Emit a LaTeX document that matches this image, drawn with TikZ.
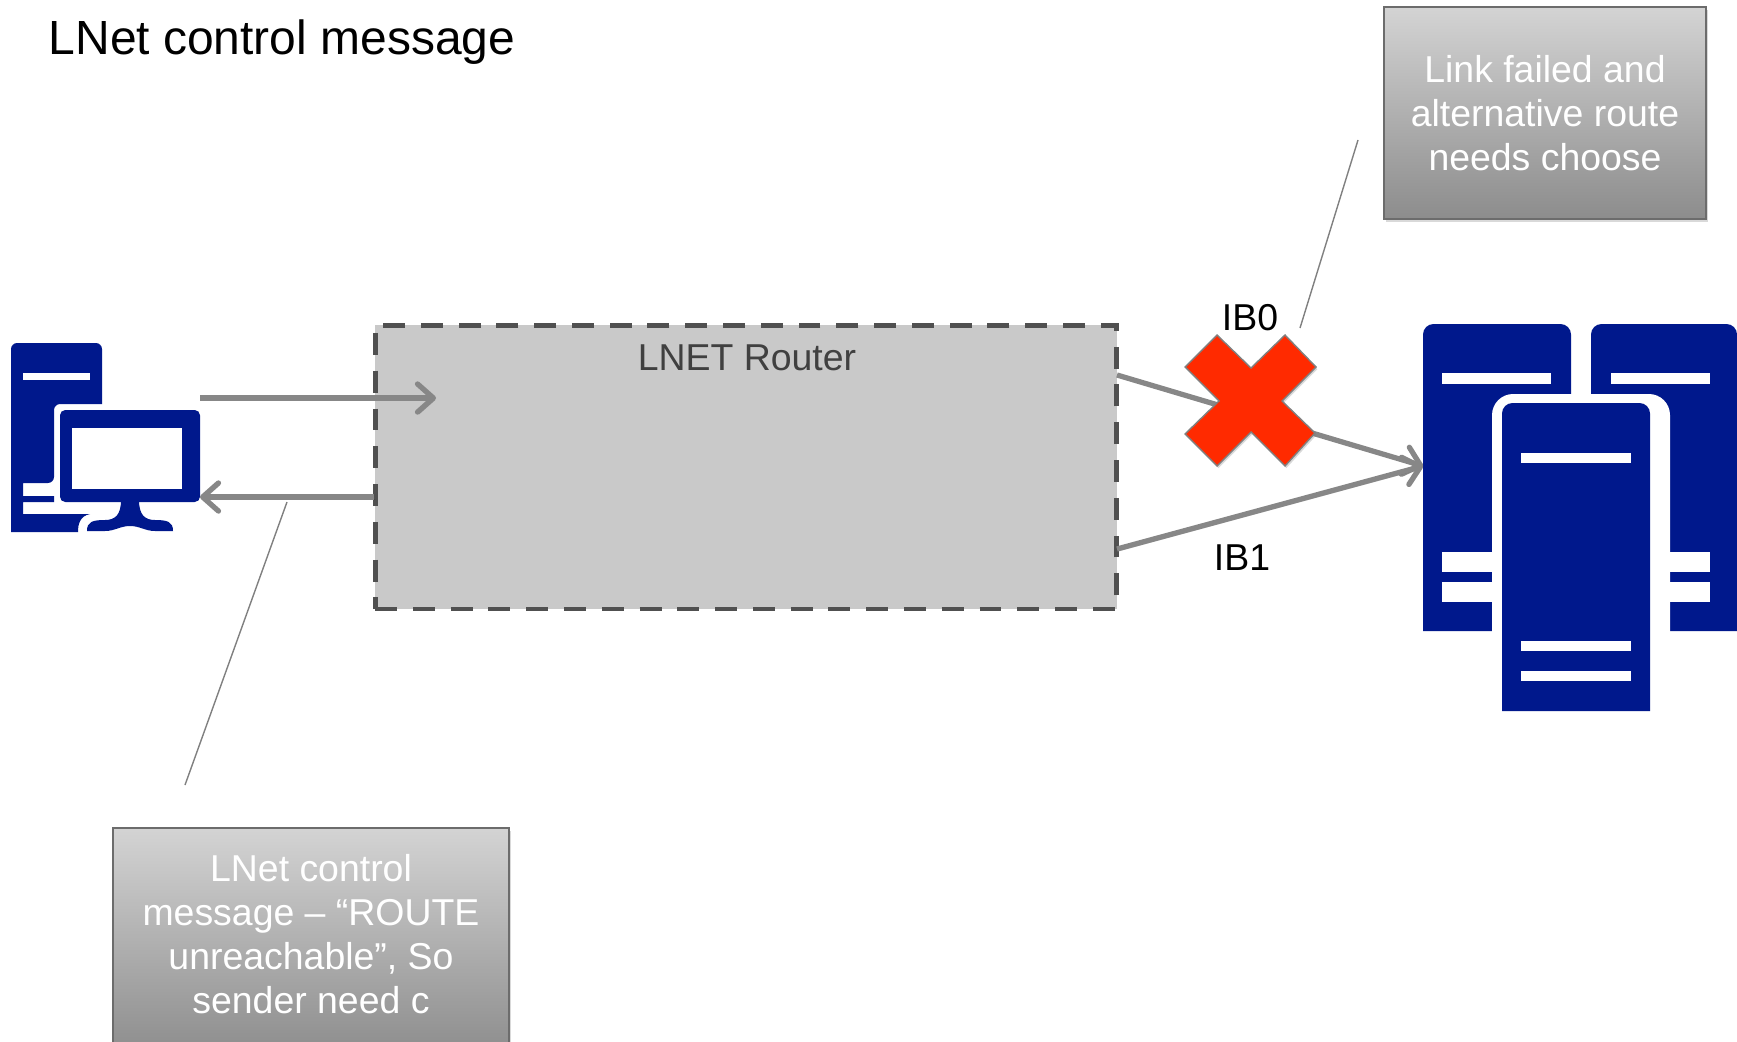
\documentclass[tikz,border=0pt]{standalone}
\usepackage{fontspec}
\setmainfont{Liberation Sans}
\usetikzlibrary{arrows.meta, positioning, shadows}
\definecolor{hostblue}{RGB}{0,24,140}
\definecolor{linkgray}{RGB}{135,135,135}
\definecolor{routerfill}{RGB}{201,201,201}
\definecolor{routerdash}{RGB}{80,80,80}
\definecolor{crossred}{RGB}{255,42,0}
\tikzset{
	routerbox/.style={draw=routerdash, fill=routerfill, line width=2.8pt, dash pattern=on 12.5pt off 9pt, minimum width=742\pxunit, minimum height=284\pxunit, inner sep=0pt},
	notebox/.style={draw=gray!85!black, line width=0.9pt, top color=black!17, bottom color=black!45, inner sep=0pt, drop shadow={opacity=.3, shadow xshift=1.2pt, shadow yshift=-1.6pt}},
	notetext/.style={text=white, align=center, font=\fontsize{21.3}{25}\selectfont, inner sep=0pt},
	link/.style={draw=linkgray, line width=3pt, -{Straight Barb[length=9pt, width=16pt, line cap=round, round]}, preaction={draw=black, opacity=.15, transform canvas={shift={(.8pt,-1.2pt)}}}},
	leader/.style={draw=gray, line width=0.8pt},
	iblabel/.style={font=\fontsize{21.3}{25}\selectfont, inner sep=0pt},
	hostpart/.style={fill=hostblue},
	hostgap/.style={fill=white}
}
\newcommand{\pxunit}{*0.5690pt}
\begin{document}
\begin{tikzpicture}[x=0.02cm, y=-0.02cm]
		\useasboundingbox (0,0) rectangle (1737,1041);
		\clip (0,0) rectangle (1737,1041);
		
		% Title
		\node[font=\fontsize{27.3}{32}\selectfont, inner sep=0pt] (title) at (282,42) {LNet control message};
		
		% Client computer
		\path[hostpart, rounded corners=3.5pt] (11,532) -- (11,343) -- (102,343) [sharp corners] -- (102,404) [rounded corners=3.5pt] -- (54,404) -- (54,483) [sharp corners] -- (23,483) -- (23,496) -- (54,496) -- (54,502) -- (23,502) -- (23,514) -- (90,514) .. controls (80,516) and (78,524) .. (78,532) -- cycle;
		\path[hostgap] (23,373) rectangle (90,380);
		\path[hostpart, rounded corners=3pt] (60,410) rectangle (200,502);
		\path[hostgap] (72,428) rectangle (182,489);
		\path[hostpart] (121,500) -- (139,500) .. controls (139,515) and (145,520) .. (155,520) .. controls (168,520) and (173,522) .. (173,531) -- (155,531) .. controls (145,531) and (140,526) .. (130,526) .. controls (120,526) and (115,531) .. (105,531) -- (87,531) .. controls (87,522) and (92,520) .. (105,520) .. controls (115,520) and (121,515) .. (121,500) -- cycle;
		
		% LNET router
		\node[routerbox] (router) at (746,467) {};
		\node[text=black!75, font=\fontsize{21.3}{25}\selectfont, inner sep=0pt] (routerlabel) at (747,358) {LNET Router};
		
		% Server group
		\path[hostpart, rounded corners=6pt] (1423,631) [sharp corners] -- (1423,631) [rounded corners=6pt] -- (1423,324) -- (1571,324) [sharp corners] -- (1571,631) -- cycle;
		\path[hostpart, rounded corners=6pt] (1591,631) -- (1591,324) -- (1737,324) [sharp corners] -- (1737,631) -- cycle;
		\path[hostgap] (1442,373) rectangle (1551,384);
		\path[hostgap] (1611,373) rectangle (1710,384);
		\path[hostgap] (1442,552) rectangle (1710,572);
		\path[hostgap] (1442,582) rectangle (1710,602);
		\path[hostgap, rounded corners=12pt] (1492,720) -- (1492,394) -- (1670,394) -- (1670,720) -- cycle;
		\path[hostpart, rounded corners=6pt] (1502,711) [sharp corners] -- (1502,711) [rounded corners=6pt] -- (1502,403) -- (1650,403) [sharp corners] -- (1650,711) -- cycle;
		\path[hostgap] (1521,453) rectangle (1631,463);
		\path[hostgap] (1521,641) rectangle (1631,651);
		\path[hostgap] (1521,671) rectangle (1631,681);
		
		% Link ends
		\coordinate (pcout) at (200,398);
		\coordinate (routerin) at (436,398);
		\coordinate (pcin) at (200,497);
		\coordinate (routerout) at (374,497);
		\coordinate (ibzero) at (1117,375);
		\coordinate (ibone) at (1117,549);
		\coordinate (serverin) at (1423,466);
		
		% Arrows
		\draw[link] (pcout) -- (routerin);
		\draw[link] (routerout) -- (pcin);
		\draw[link] (ibzero) -- (serverin);
		\draw[link] (ibone) -- (serverin);
		
		% Failed link
		\path[fill=crossred, draw=gray, line width=0.8pt, drop shadow={opacity=.3, shadow xshift=.8pt, shadow yshift=-1.2pt}] (1217,335) -- (1251,368) -- (1285,335) -- (1316,367) -- (1282,401) -- (1315,433) -- (1285,466) -- (1251,432) -- (1217,466) -- (1185,434) -- (1219,401) -- (1185,367) -- cycle;
		\node[iblabel] (ibzerolabel) at (1250,318) {IB0};
		\node[iblabel] (ibonelabel) at (1242,558) {IB1};
		
		% Notes
		\node[notebox, minimum width=322\pxunit, minimum height=212\pxunit] (failnote) at (1545,113) {};
		\node[notetext] (failtext) at (failnote) {Link failed and\\alternative route\\needs choose};
		\node[notebox, minimum width=396\pxunit, minimum height=228\pxunit] (sendernote) at (311,942) {};
		\node[notetext] (sendertext) at (311,934) {LNet control\\message – “ROUTE\\unreachable”, So\\sender need c};
		
		% Leaders
		\coordinate (failtip) at (1300,328);
		\coordinate (failend) at (1358,140);
		\coordinate (sendertip) at (287,502);
		\coordinate (senderend) at (185,785);
		\draw[leader] (failtip) -- (failend);
		\draw[leader] (sendertip) -- (senderend);
	\end{tikzpicture}
\end{document}
